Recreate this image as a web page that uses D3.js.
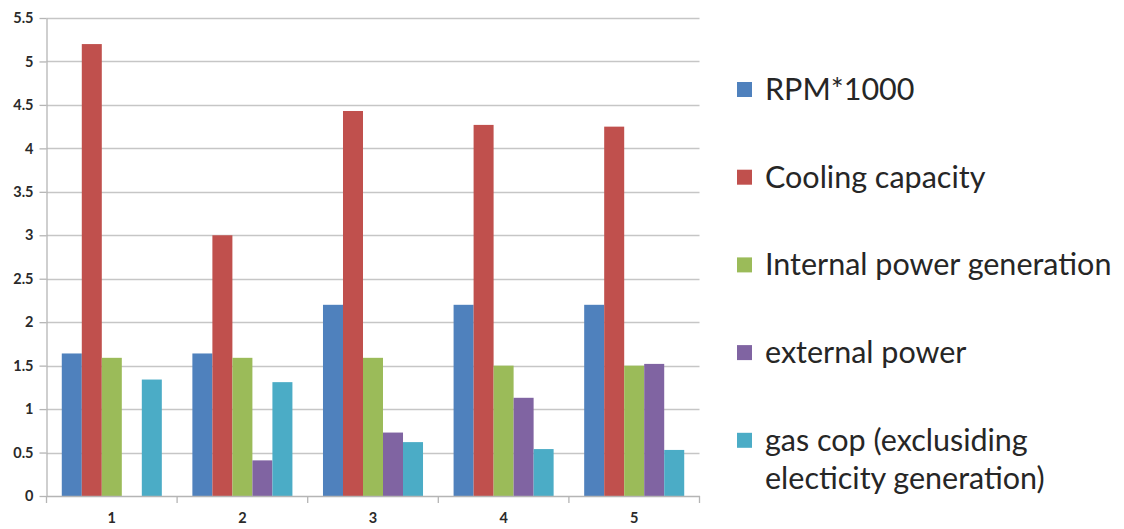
<!DOCTYPE html>
<html>
<head>
<meta charset="utf-8">
<script src="https://cdn.jsdelivr.net/npm/d3@7"></script>
<style>
  html, body { margin: 0; padding: 0; background: #fff; }
  svg { display: block; }
</style>
</head>
<body>
<svg id="chart" width="1124" height="529"></svg>
<script>
const categories = ["1", "2", "3", "4", "5"];
const seriesNames = ["RPM*1000", "Cooling capacity", "Internal power generation", "external power", "gas cop (exclusiding electicity generation)"];
const legendLines = [["RPM*1000"], ["Cooling capacity"], ["Internal power generation"], ["external power"], ["gas cop (exclusiding", "electicity generation)"]];
const rpm = [1.64, 1.64, 2.2, 2.2, 2.2];
const cooling = [5.2, 3.0, 4.43, 4.27, 4.25];
const internalPower = [1.59, 1.59, 1.59, 1.5, 1.5];
const externalPower = [0, 0.41, 0.73, 1.13, 1.52];
const gasCop = [1.34, 1.31, 0.62, 0.54, 0.53];
const yTicks = [0, 0.5, 1, 1.5, 2, 2.5, 3, 3.5, 4, 4.5, 5, 5.5];
const colors = ["#4F81BD", "#C0504D", "#9BBB59", "#8064A2", "#4BACC6"];

const seriesValues = [rpm, cooling, internalPower, externalPower, gasCop];

const svg = d3.select("#chart");
const mLeft = 46.5, mRight = 699.5, mTop = 18, mBottom = 496;

const x0 = d3.scaleBand().domain(categories).range([mLeft, mRight]).padding(0);
const bw = x0.bandwidth();
const x1 = d3.scaleBand().domain(seriesNames).range([bw * 0.117, bw * 0.883]).padding(0);
const y = d3.scaleLinear().domain([0, 5.5]).range([mBottom, mTop]);

// gridlines
svg.append("g")
  .selectAll("line")
  .data(yTicks.filter(d => d > 0))
  .join("line")
  .attr("x1", mLeft).attr("x2", mRight)
  .attr("y1", d => Math.round(y(d)) + 0.5).attr("y2", d => Math.round(y(d)) + 0.5)
  .attr("stroke", "#c6c6c6").attr("stroke-width", 1.3);

// y axis
const yAxis = d3.axisLeft(y).tickValues(yTicks).tickSize(7).tickSizeOuter(0).tickFormat(d => d3.format("")(d));
const gy = svg.append("g").attr("transform", `translate(${mLeft},0)`).call(yAxis);
gy.select(".domain").attr("stroke", "#b5b5b5").attr("stroke-width", 1.3);
gy.selectAll(".tick line").attr("stroke", "#b5b5b5").attr("stroke-width", 1.3);
gy.selectAll(".tick text")
  .attr("x", -13)
  .style("font-family", "Lato, 'Open Sans', sans-serif")
  .style("font-weight", "bold")
  .style("font-size", "14.5px")
  .attr("fill", "#2a2a2a");

// bars
const groups = svg.append("g")
  .selectAll("g")
  .data(categories)
  .join("g")
  .attr("transform", d => `translate(${x0(d)},0)`);

groups.selectAll("rect")
  .data((d, i) => seriesNames.map((s, j) => ({ s, j, v: seriesValues[j][i] })))
  .join("rect")
  .attr("x", d => x1(d.s))
  .attr("width", x1.bandwidth())
  .attr("y", d => y(d.v))
  .attr("height", d => y(0) - y(d.v))
  .attr("fill", d => colors[d.j]);

// x axis
const xAxis = d3.axisBottom(x0).tickSize(0).tickSizeOuter(0);
const gx = svg.append("g").attr("transform", `translate(0,${mBottom})`).call(xAxis);
gx.select(".domain").attr("stroke", "#b5b5b5").attr("stroke-width", 1.3);
gx.selectAll(".tick text")
  .attr("y", 17)
  .style("font-family", "Lato, 'Open Sans', sans-serif")
  .style("font-weight", "bold")
  .style("font-size", "14.5px")
  .attr("fill", "#2a2a2a");
// category boundary ticks
const boundaries = categories.map(c => x0(c)).concat([x0(categories[categories.length - 1]) + bw]);
gx.append("g").selectAll("line")
  .data(boundaries)
  .join("line")
  .attr("x1", d => d).attr("x2", d => d)
  .attr("y1", 0).attr("y2", 7)
  .attr("stroke", "#b5b5b5").attr("stroke-width", 1.3);

// legend
const legendTop = 90, legendStep = 87.7;
const lg = svg.append("g")
  .selectAll("g")
  .data(legendLines)
  .join("g")
  .attr("transform", (d, i) => `translate(737,${legendTop + i * legendStep})`);
lg.append("rect")
  .attr("x", 0).attr("y", -8)
  .attr("width", 15).attr("height", 15)
  .attr("fill", (d, i) => colors[i]);
lg.append("text")
  .attr("font-family", "Lato, 'Open Sans', sans-serif")
  .attr("font-size", "30.5px")
  .attr("fill", "#262626")
  .selectAll("tspan")
  .data(d => d)
  .join("tspan")
  .attr("x", 28)
  .attr("y", (d, k) => 10 + k * 38)
  .text(d => d);
</script>
</body>
</html>
